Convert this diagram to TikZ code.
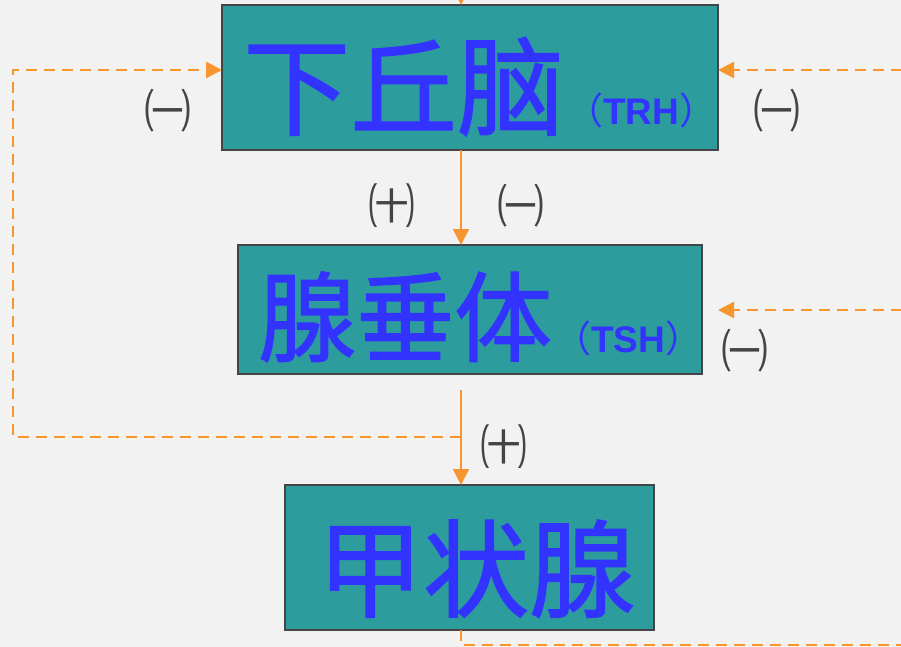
\documentclass[tikz,border=0pt]{standalone}
\usepackage{fontspec}
\newfontfamily\cjk{Noto Sans CJK SC}
\newfontfamily\cjkm{Noto Sans CJK SC}[FakeBold=1.3]
\newfontfamily\arial{Liberation Sans}
\usetikzlibrary{arrows.meta}
\definecolor{bgcol}{HTML}{F2F2F2}
\definecolor{teal}{HTML}{2C9C9C}
\definecolor{edge}{HTML}{444444}
\definecolor{ink}{HTML}{3333FF}
\definecolor{org}{HTML}{F7962F}
\definecolor{lab}{HTML}{444444}
\tikzset{
  box/.style={draw=edge, line width=2pt, fill=teal, inner sep=0pt, outer sep=0pt},
  big/.style={text=ink, inner sep=0pt, anchor=base west},
  abbr/.style={text=ink, inner sep=0pt, anchor=base west},
  lbl/.style={text=lab, inner sep=0pt, font=\cjk\fontsize{47}{47}\selectfont},
  sarrow/.style={draw=org, line width=2pt, -{Triangle[length=16pt,width=16pt]}},
  darrow/.style={draw=org, line width=2.6pt, dash pattern=on 11pt off 7pt, -{Triangle[length=16pt,width=16pt]}},
  dline/.style={draw=org, line width=2.6pt, dash pattern=on 11pt off 7pt},
}
\begin{document}
\begin{tikzpicture}[x=1pt,y=-1pt]
\useasboundingbox (0,0) rectangle (901,647);
\fill[bgcol] (0,0) rectangle (901,647);
\clip (0,0) rectangle (901,647);
% boxes
\node[box, minimum width=496pt, minimum height=145pt] (b1) at (470,77.5) {};
\node[box, minimum width=464pt, minimum height=129pt] (b2) at (470,309.5) {};
\node[box, minimum width=369pt, minimum height=145pt] (b3) at (469.5,557.5) {};
% texts
\node[big, font=\cjkm\fontsize{107}{107}\selectfont] (t1) at (243,127) {下丘脑};
\node[abbr] (a1) at (566,125) {\fontsize{37}{37}\selectfont{\cjk （}{\arial\bfseries TRH}{\cjk ）}};
\node[big, font=\cjkm\fontsize{98}{98}\selectfont] (t2) at (258,354) {腺垂体};
\node[abbr] (a2) at (554,352) {\fontsize{37}{37}\selectfont{\cjk （}{\arial\bfseries TSH}{\cjk ）}};
\node[big, font=\cjkm\fontsize{106}{106}\selectfont] (t3) at (317,609) {甲状腺};
% coordinates
\coordinate (ax) at (461,0);
\coordinate (top) at (461,-20);
\coordinate (s3) at (461,390);
\coordinate (j1) at (461,437);
\coordinate (l1) at (13,437);
\coordinate (l2) at (13,70);
\coordinate (r1) at (920,70);
\coordinate (r2) at (920,310);
\coordinate (t2e) at (718,310);
\coordinate (bot) at (461,645);
\coordinate (br) at (920,645);
% solid arrows
\draw[sarrow] (top) -- (b1.north -| ax);
\draw[sarrow] (b1.south -| ax) -- (b2.north -| ax);
\draw[sarrow] (s3) -- (b3.north -| ax);
% dashed feedback
\draw[darrow] (j1) -- (l1) -- (l2) -- (b1.west |- l2);
\draw[darrow] (r1) -- (b1.east |- r1);
\draw[darrow] (r2) -- (t2e);
\draw[dline] (b3.south -| ax) -- (bot) -- (br);
% labels
\node[lbl] (n1) at (168,111) {㈠};
\node[lbl] (n2) at (777,111) {㈠};
\node[lbl] (n3) at (392,206) {㈩};
\node[lbl] (n4) at (521,206) {㈠};
\node[lbl] (n5) at (745,351) {㈠};
\node[lbl] (n6) at (504,447) {㈩};
\end{tikzpicture}
\end{document}
